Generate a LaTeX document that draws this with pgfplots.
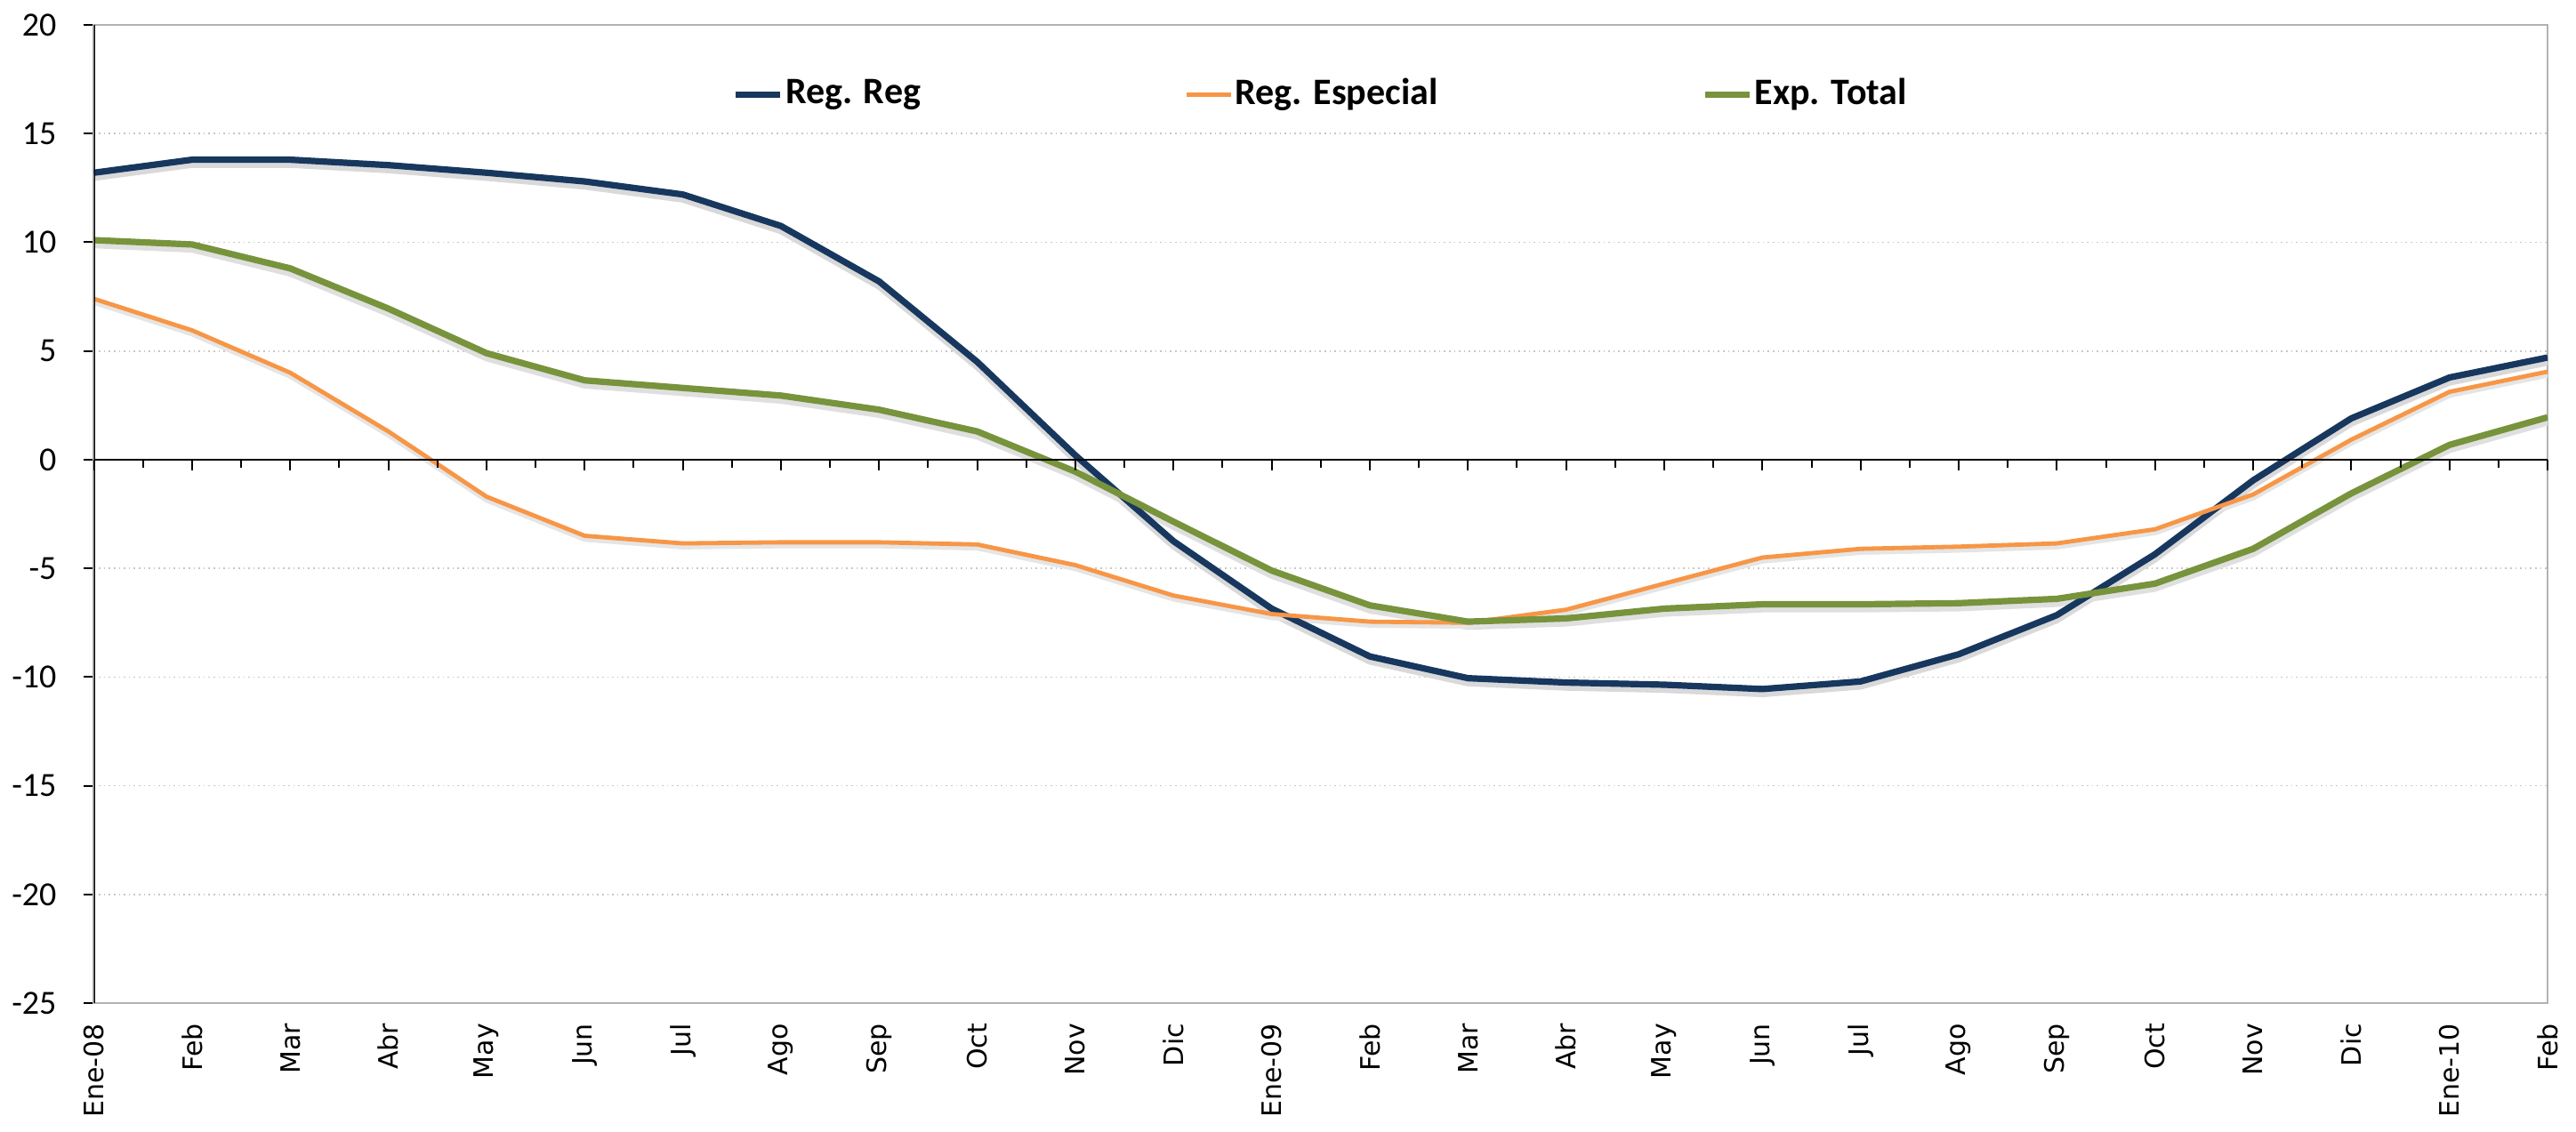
\documentclass[border=0pt]{standalone}
\usepackage{fontspec}
\setmainfont{Carlito}
\newfontfamily\dejavu{DejaVu Sans}
\usepackage{pgfplots}
\usepackage{pgfplotstable}
\pgfplotsset{compat=1.18}

\definecolor{regreg}{HTML}{17375E}
\definecolor{regesp}{HTML}{F79646}
\definecolor{exptot}{HTML}{77933C}

% x: month index, Ene-08 = 0
\pgfplotstableread{
x  rr     re     et
0  13.2   7.4    10.1
1  13.8   5.95   9.9
2  13.8   4.0    8.8
3  13.55  1.3    6.95
4  13.2   -1.7   4.9
5  12.8   -3.5   3.65
6  12.2   -3.85  3.3
7  10.75  -3.8   2.95
8  8.2    -3.8   2.3
9  4.5    -3.9   1.3
10 0.2    -4.85  -0.55
11 -3.75  -6.25  -2.85
12 -6.85  -7.1   -5.1
13 -9.05  -7.45  -6.7
14 -10.05 -7.5   -7.45
15 -10.25 -6.9   -7.3
16 -10.35 -5.7   -6.85
17 -10.55 -4.5   -6.65
18 -10.2  -4.1   -6.65
19 -8.95  -4.0   -6.6
20 -7.15  -3.85  -6.4
21 -4.35  -3.2   -5.7
22 -0.95  -1.6   -4.1
23 1.9    0.92   -1.55
24 3.78   3.12   0.68
25 4.7    4.05   1.95
}\data

\begin{document}
\begin{tikzpicture}
\begin{axis}[
  scale only axis, width=689.5pt, height=275pt,
  xmin=0, xmax=25, ymin=-25, ymax=20,
  ytick={-25,-20,...,20},
  xtick={0,...,25},
  xticklabels={Ene-08,Feb,Mar,Abr,May,Jun,Jul,Ago,Sep,Oct,Nov,Dic,Ene-09,Feb,Mar,Abr,May,Jun,Jul,Ago,Sep,Oct,Nov,Dic,Ene-10,Feb},
  xticklabel style={rotate=90, anchor=east, font=\dejavu\fontsize{7.5}{8.5}\selectfont, xshift=0.8pt},
  x tick style={draw=none},
  ytick pos=left, tick align=outside, major tick length=3pt,
  y tick style={black, line width=0.5pt},
  yticklabel style={font=\fontsize{9.5}{11}\selectfont, xshift=-4pt},
  /pgf/number format/assume math mode=true,
  ymajorgrids, grid style={gray!45, densely dotted, line width=0.4pt},
  axis line style={gray!60, line width=0.6pt},
  legend style={draw=none, fill=none, at={(0.5,0.929)}, anchor=center,
    font=\bfseries\fontsize{10.5}{12}\selectfont, legend columns=3,
    /tikz/every even column/.append style={column sep=73.5pt},
    nodes={inner sep=0.6pt}},
  legend image code/.code={\draw[#1] (0,0) -- (12.5pt,0);},
]
% soft shadows under the lines
\addplot[gray!30, line width=2pt, yshift=-1.3pt, forget plot] table[x=x, y=rr] {\data};
\addplot[gray!25, line width=2pt, yshift=-1.3pt, forget plot] table[x=x, y=et] {\data};
\addplot[gray!20, line width=1.4pt, yshift=-1.0pt, forget plot] table[x=x, y=re] {\data};

\addplot[regreg, line width=1.8pt] table[x=x, y=rr] {\data};
\addlegendentry{Reg. Reg}
\addplot[regesp, line width=1.2pt] table[x=x, y=re] {\data};
\addlegendentry{Reg. Especial}
\addplot[exptot, line width=1.8pt] table[x=x, y=et] {\data};
\addlegendentry{Exp. Total}

\draw[black, line width=0.5pt] (rel axis cs:0,0) -- (rel axis cs:0,1);
\end{axis}
% x axis through zero with its tick marks
\begin{axis}[
  scale only axis, width=689.5pt, height=275pt,
  xmin=0, xmax=25, ymin=-25, ymax=20,
  axis x line=middle, axis y line=none,
  x axis line style={-, black, line width=0.6pt},
  xtick={0,...,25}, minor x tick num=1, xticklabels={},
  xtick align=outside, major tick length=3pt, minor tick length=2.2pt,
  tick style={black, line width=0.5pt},
]
\end{axis}
\path (0,0) ++(697.5pt,282pt);
\path (0,0) ++(0,-36pt);
\end{tikzpicture}
\end{document}
